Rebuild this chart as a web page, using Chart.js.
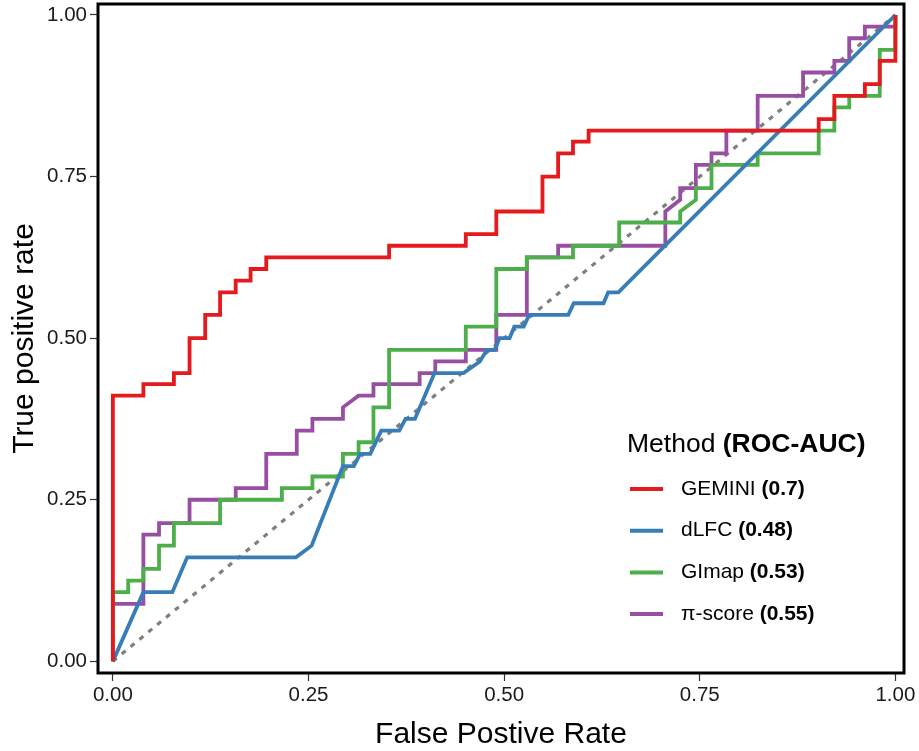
<!DOCTYPE html>
<html><head><meta charset="utf-8">
<script src="https://cdn.jsdelivr.net/npm/chart.js@4"></script>
<style>html,body{margin:0;padding:0;background:#fff;}</style>
</head><body>
<canvas id="c" width="919" height="751"></canvas>
<script>
const methods = ['GEMINI', 'dLFC', 'GImap', 'π-score'];
const aucs = ['0.7', '0.48', '0.53', '0.55'];
const colors = ['#E41A1C', '#377EB8', '#4DAF4A', '#984EA3'];
const axisTicks = [0, 0.25, 0.5, 0.75, 1];

const geminiFPR = [0,0,0.039,0.039,0.078,0.078,0.098,0.098,0.118,0.118,0.137,0.137,0.157,0.157,0.176,0.176,0.196,0.196,0.353,0.353,0.451,0.451,0.490,0.490,0.549,0.549,0.569,0.569,0.588,0.588,0.608,0.608,0.902,0.902,0.922,0.922,0.961,0.961,0.980,0.980,1,1];
const geminiTPR = [0,0.411,0.411,0.429,0.429,0.446,0.446,0.500,0.500,0.536,0.536,0.571,0.571,0.589,0.589,0.607,0.607,0.625,0.625,0.643,0.643,0.661,0.661,0.696,0.696,0.750,0.750,0.786,0.786,0.804,0.804,0.821,0.821,0.839,0.839,0.875,0.875,0.893,0.893,0.929,0.929,1];

const dlfcFPR = [0,0.039,0.076,0.095,0.234,0.254,0.294,0.308,0.316,0.329,0.343,0.366,0.374,0.386,0.411,0.448,0.469,0.478,0.488,0.494,0.507,0.513,0.525,0.532,0.582,0.589,0.627,0.633,0.646,1];
const dlfcTPR = [0,0.107,0.107,0.161,0.161,0.179,0.302,0.302,0.321,0.321,0.357,0.357,0.375,0.375,0.446,0.446,0.464,0.482,0.482,0.500,0.500,0.518,0.518,0.536,0.536,0.554,0.554,0.571,0.571,1];

const gimapFPR = [0,0,0.0196,0.0196,0.039,0.039,0.059,0.059,0.078,0.078,0.137,0.137,0.216,0.216,0.255,0.255,0.294,0.294,0.314,0.314,0.333,0.333,0.353,0.353,0.451,0.451,0.490,0.490,0.529,0.529,0.588,0.588,0.647,0.647,0.725,0.725,0.745,0.745,0.765,0.765,0.824,0.824,0.902,0.902,0.922,0.922,0.941,0.941,0.980,0.980,1,1];
const gimapTPR = [0,0.107,0.107,0.125,0.125,0.143,0.143,0.179,0.179,0.214,0.214,0.250,0.250,0.268,0.268,0.286,0.286,0.321,0.321,0.339,0.339,0.393,0.393,0.482,0.482,0.518,0.518,0.607,0.607,0.625,0.625,0.643,0.643,0.679,0.679,0.696,0.714,0.732,0.732,0.768,0.768,0.786,0.786,0.821,0.821,0.857,0.857,0.875,0.875,0.946,0.946,1];

const piFPR = [0,0,0.039,0.039,0.059,0.059,0.098,0.098,0.157,0.157,0.196,0.196,0.235,0.235,0.255,0.255,0.294,0.294,0.314,0.333,0.333,0.392,0.392,0.412,0.412,0.451,0.451,0.490,0.490,0.529,0.529,0.569,0.569,0.706,0.706,0.725,0.725,0.745,0.745,0.765,0.765,0.784,0.784,0.824,0.824,0.882,0.882,0.922,0.922,0.941,0.941,0.961,0.961,1,1];
const piTPR = [0,0.089,0.089,0.196,0.196,0.214,0.214,0.250,0.250,0.268,0.268,0.321,0.321,0.357,0.357,0.375,0.375,0.393,0.411,0.411,0.429,0.429,0.446,0.446,0.464,0.464,0.482,0.482,0.536,0.536,0.625,0.625,0.643,0.643,0.696,0.714,0.732,0.732,0.768,0.768,0.786,0.786,0.821,0.821,0.875,0.875,0.911,0.911,0.929,0.929,0.964,0.964,0.982,0.982,1];

const chanceFPR = [0, 1];
const chanceTPR = [0, 1];

const FONT = '"Liberation Sans", Arial, Helvetica, sans-serif';
const pts = (xs, ys) => xs.map((x, i) => ({x: x, y: ys[i]}));
const seriesX = [geminiFPR, dlfcFPR, gimapFPR, piFPR];
const seriesY = [geminiTPR, dlfcTPR, gimapTPR, piTPR];

const datasets = methods.map((m, i) => ({
  label: m,
  data: pts(seriesX[i], seriesY[i]),
  borderColor: colors[i],
  backgroundColor: colors[i],
  borderWidth: 3.8,
  pointRadius: 0,
  showLine: true,
  tension: 0,
  fill: false,
  borderJoinStyle: 'miter'
}));
datasets.push({
  label: 'chance',
  data: pts(chanceFPR, chanceTPR),
  borderColor: '#7f7f7f',
  borderWidth: 3.2,
  borderDash: [5, 6.5],
  pointRadius: 0,
  showLine: true,
  fill: false
});

const frameAndLegend = {
  id: 'frameAndLegend',
  afterDatasetsDraw(chart) {
    const ctx = chart.ctx, a = chart.chartArea;
    ctx.save();
    ctx.strokeStyle = '#000';
    ctx.lineWidth = 3;
    ctx.strokeRect(a.left, a.top, a.right - a.left, a.bottom - a.top);
    const lx = a.right - 277;
    const ty = a.top + 441;
    ctx.textAlign = 'left';
    ctx.textBaseline = 'middle';
    ctx.fillStyle = '#000';
    ctx.font = '26.5px ' + FONT;
    const t1 = 'Method ';
    ctx.fillText(t1, lx, ty);
    const w1 = ctx.measureText(t1).width;
    ctx.font = 'bold 26.5px ' + FONT;
    ctx.fillText('(ROC-AUC)', lx + w1, ty);
    methods.forEach((m, i) => {
      const y = a.top + 485 + i * 41.7;
      ctx.strokeStyle = colors[i];
      ctx.lineWidth = 4;
      ctx.beginPath();
      ctx.moveTo(lx + 3, y);
      ctx.lineTo(lx + 36, y);
      ctx.stroke();
      ctx.font = '21px ' + FONT;
      const s = m + ' ';
      ctx.fillText(s, lx + 54, y);
      const w = ctx.measureText(s).width;
      ctx.font = 'bold 21px ' + FONT;
      ctx.fillText('(' + aucs[i] + ')', lx + 54 + w, y);
    });
    ctx.restore();
  }
};

new Chart(document.getElementById('c'), {
  type: 'scatter',
  data: {datasets: datasets},
  options: {
    responsive: false,
    animation: false,
    layout: {autoPadding: false, padding: {top: 4, right: 15, left: 0, bottom: 0}},
    plugins: {legend: {display: false}, tooltip: {enabled: false}},
    scales: {
      x: {
        type: 'linear', min: -0.019, max: 1.011,
        afterBuildTicks: s => { s.ticks = axisTicks.map(v => ({value: v})); },
        afterFit: s => { s.height = 78; s.paddingLeft = 0; s.paddingRight = 0; },
        grid: {drawOnChartArea: false, drawTicks: true, tickLength: 8, tickColor: '#333', tickWidth: 1.2},
        border: {display: false},
        ticks: {color: '#1a1a1a', font: {family: FONT, size: 20.5}, padding: 2, callback: v => v.toFixed(2), maxRotation: 0},
        title: {display: true, text: 'False Postive Rate', color: '#000', font: {family: FONT, size: 30, lineHeight: 1.1}, padding: {top: 0, bottom: 0}}
      },
      y: {
        type: 'linear', min: -0.018, max: 1.017,
        afterBuildTicks: s => { s.ticks = axisTicks.map(v => ({value: v})); },
        afterFit: s => { s.width = 98; s.paddingTop = 0; s.paddingBottom = 0; },
        grid: {drawOnChartArea: false, drawTicks: true, tickLength: 8, tickColor: '#333', tickWidth: 1.2},
        border: {display: false},
        ticks: {color: '#1a1a1a', font: {family: FONT, size: 20.5}, padding: 3, callback: v => v.toFixed(2)},
        title: {display: true, text: 'True positive rate', color: '#000', font: {family: FONT, size: 30, lineHeight: 1.1}, padding: {top: 8, bottom: 0}}
      }
    }
  },
  plugins: [frameAndLegend]
});
</script>
</body></html>
